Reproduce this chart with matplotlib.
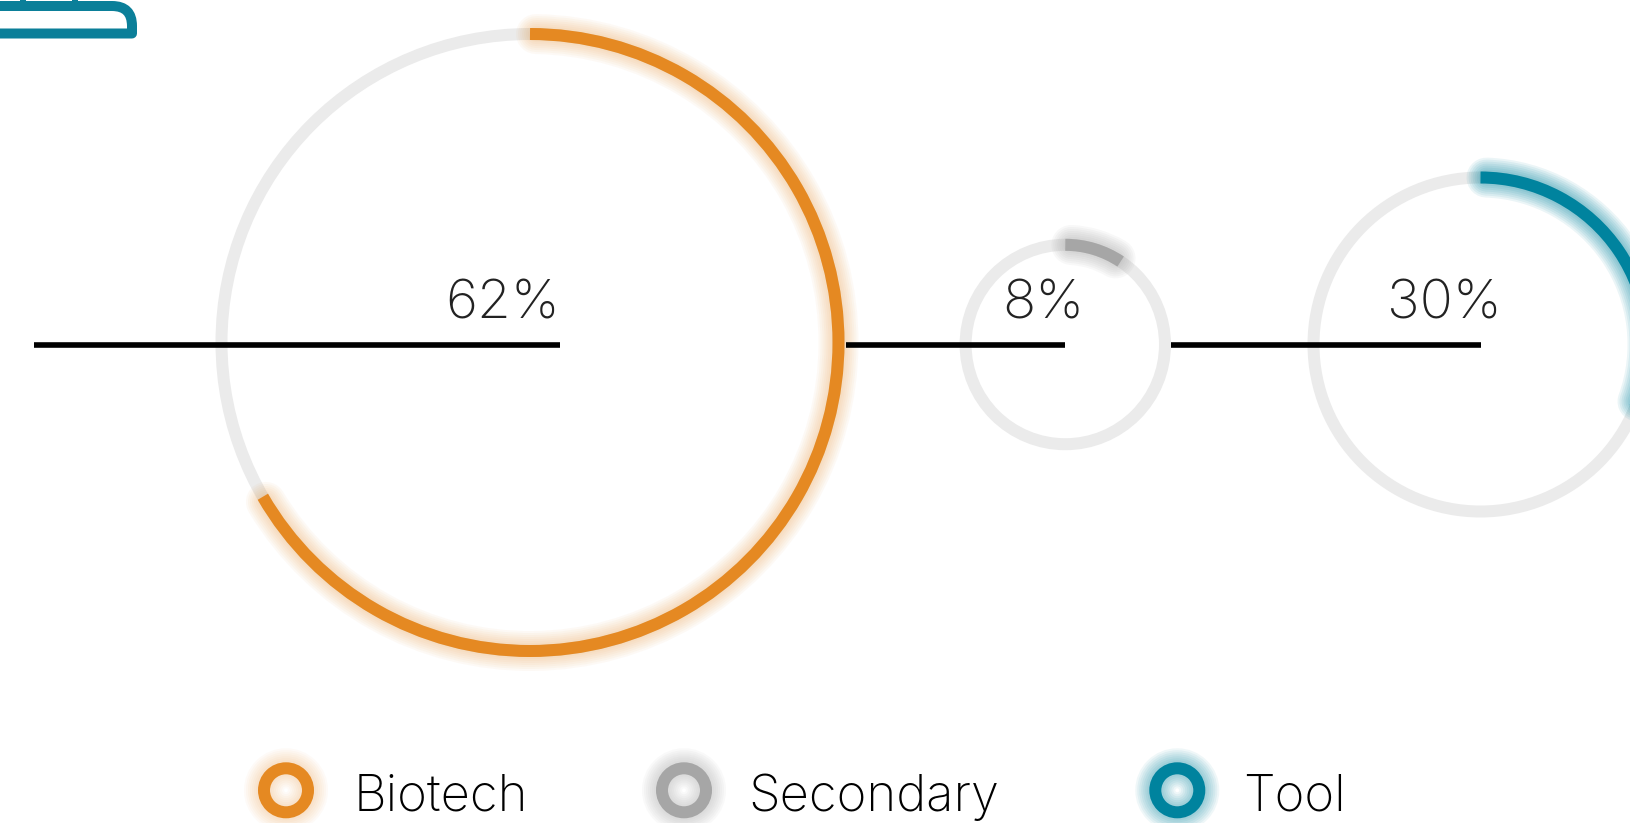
import math

import matplotlib
matplotlib.use("Agg")
import matplotlib.pyplot as plt
from matplotlib.patches import Arc, Circle, PathPatch
from matplotlib.path import Path

# values
categories = ["Biotech", "Secondary", "Tool"]
shares = [62, 8, 30]
# the drawn arcs run a bit longer than the printed share
sweep_degrees = [240, 33.7, 112]

# layout, in reference pixels
W, H = 1630, 823
DPI = 100
ring_centers = [(530, 342.5), (1065.3, 344.5), (1480.5, 344.5)]
ring_radii = [308.5, 99.7, 167]
stroke = 12
axis_y = 345
axis_spans = [(33.7, 560), (845.7, 1065), (1171, 1480.5)]
label_right = [560, 1084.5, 1502]
label_y = 318.5
legend_ring_x = [286, 684, 1177.3]
legend_ring_y = 790.3
legend_ring_r = 22
legend_text_x = [354, 748.5, 1243]
legend_text_y = 810.7

colors = ["#E58922", "#A6A6A6", "#00839E"]
glow_alpha = [0.045, 0.08, 0.08]
track_color = "#EBEBEB"

plt.rcParams["font.family"] = ["Inter", "Roboto", "DejaVu Sans"]


def px(width):
    return width * 72 / DPI


def draw_arc(ax, center, radius, start, end, color, alpha, width, cap="butt", zorder=2):
    # y axis is inverted so angles run clockwise, 270 is the top of the ring
    arc = Arc(center, 2 * radius, 2 * radius, theta1=270 + start, theta2=270 + end,
              color=color, alpha=alpha, lw=px(width), capstyle=cap, zorder=zorder)
    ax.add_patch(arc)


def draw_circle(ax, center, radius, color, alpha, width, zorder=2):
    ax.add_patch(Circle(center, radius, fill=False, edgecolor=color, alpha=alpha,
                        lw=px(width), zorder=zorder))


def draw_glow(ax, center, radius, sweep, color, alpha):
    # round caps reach stroke/2 + extra past the ends, so trim the arc by stroke/2
    trim = math.degrees(stroke / 2 / radius)
    for extra in range(2, 15, 2):
        draw_arc(ax, center, radius, trim, sweep - trim, color, alpha,
                 stroke + 2 * extra, cap="round", zorder=2)


def draw_ring_glow(ax, center, radius, color, alpha):
    for extra in range(2, 15, 2):
        draw_circle(ax, center, radius, color, alpha, stroke + 2 * extra, zorder=2)


fig = plt.figure(figsize=(W / DPI, H / DPI), dpi=DPI, facecolor="white")
ax = fig.add_axes([0, 0, 1, 1])
ax.set_xlim(0, W)
ax.set_ylim(H, 0)
ax.axis("off")

for i, share in enumerate(shares):
    center = ring_centers[i]
    radius = ring_radii[i]
    draw_circle(ax, center, radius, track_color, 1, stroke, zorder=1)
    draw_glow(ax, center, radius, sweep_degrees[i], colors[i], glow_alpha[i])
    draw_arc(ax, center, radius, 0, sweep_degrees[i], colors[i], 1, stroke, zorder=3)

    ax.plot(axis_spans[i], [axis_y, axis_y], color="black", lw=px(5.6),
            solid_capstyle="butt", zorder=4)
    ax.text(label_right[i], label_y, f"{share}%", ha="right", va="baseline",
            fontsize=39.5, fontweight="light", color="#222222", zorder=5)

for i, name in enumerate(categories):
    center = (legend_ring_x[i], legend_ring_y)
    draw_ring_glow(ax, center, legend_ring_r, colors[i], glow_alpha[i] * 0.8)
    draw_circle(ax, center, legend_ring_r, colors[i], 1, stroke, zorder=3)
    ax.text(legend_text_x[i], legend_text_y, name, ha="left", va="baseline",
            fontsize=36.5, fontweight="light", color="black", zorder=5)

# cropped icon in the top left corner
codes = [Path.MOVETO, Path.LINETO, Path.CURVE3, Path.CURVE3, Path.LINETO, Path.LINETO]
icon = Path([(-10, 6), (112, 6), (132, 6), (132, 26), (132, 33.5), (-10, 33.5)], codes)
ax.add_patch(PathPatch(icon, fill=False, edgecolor="#0B7F99", lw=px(10),
                       joinstyle="round", zorder=3))
for stem_x in (23, 75):
    ax.plot([stem_x, stem_x], [0, 8], color="#0B7F99", lw=px(6), zorder=3)

fig.savefig("out.png", dpi=DPI, facecolor="white")
